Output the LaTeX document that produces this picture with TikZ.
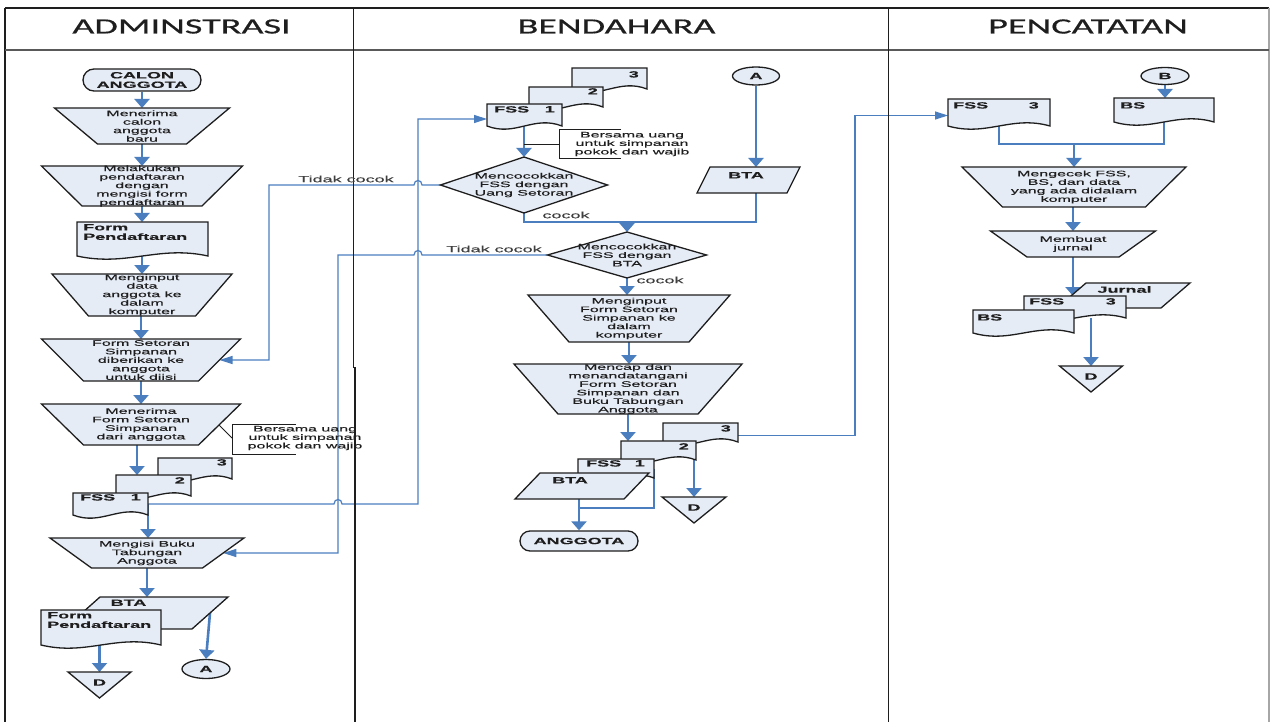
\documentclass[tikz,border=0pt]{standalone}
\usepackage{fontspec}
\setmainfont{Liberation Sans}
\newfontfamily\hdfont[FakeStretch=1.76,FakeBold=0.6]{Carlito}
\newfontfamily\bxfont[FakeStretch=2.0,FakeBold=0.3]{Liberation Sans}
\usetikzlibrary{arrows.meta,calc,shapes.misc,shapes.geometric}
\pgfdeclarelayer{back}
\pgfdeclarelayer{bg}
\pgfsetlayers{back,bg,main}
\definecolor{fillb}{HTML}{E6ECF6}
\definecolor{lineb}{HTML}{4A7EBF}
\definecolor{ink}{HTML}{1E1E1E}
\newcommand\txtf{\bxfont\fontsize{8}{8.5}\selectfont}
\newcommand\lblf{\bxfont\bfseries\fontsize{9}{9.5}\selectfont}
\tikzset{
 shp/.style={draw=ink, fill=fillb, line width=1.3pt, line join=miter},
 bb/.style={inner sep=0pt, outer sep=0pt, draw=none},
 txt/.style={font=\txtf, align=center, text=ink, inner sep=0pt},
 lbl/.style={font=\lblf, text=ink, inner sep=0pt, align=left},
 rtxt/.style={font=\bxfont\fontsize{9}{9}\selectfont, text=ink!85, inner sep=0pt},
 flow/.style={draw=lineb, line width=2.6pt, -{Triangle[width=15pt,length=9pt]}},
 route/.style={draw=lineb, line width=1.2pt},
 routearr/.style={route, -{Triangle[width=8pt,length=13pt]}},
 ann/.style={draw=ink, line width=1pt},
 frame/.style={draw=ink, line width=1.5pt},
 hd/.style={font=\hdfont\fontsize{21.7}{21.7}\selectfont, text=ink, inner sep=0pt},
 term/.style={shp, rounded rectangle, inner sep=0pt, font=\lblf, align=center, text=ink},
 conn/.style={shp, ellipse, inner sep=0pt, font=\lblf, text=ink},
}
% manual operation: name, cx, ytop, ybot, topW, botW, text
\newcommand\mop[7]{%
 \node[bb, minimum width={#5}, minimum height={#4-#3}] (#1) at (#2,{(#3+#4)/2}) {};
 \draw[shp] ({#2-#5/2},#3) -- ({#2+#5/2},#3) -- ({#2+#6/2},#4) -- ({#2-#6/2},#4) -- cycle;
 \node[txt] (#1-t) at (#1.center) {#7};}
% document: name, x1, y1, x2, y2 (side bottom)
\newcommand\docu[5]{%
 \node[bb, minimum width={#4-#2}, minimum height={#5-#3}] (#1) at ({(#2+#4)/2},{(#3+#5)/2}) {};
 \draw[shp] (#2,#5) -- (#2,#3) -- (#4,#3) -- (#4,#5) .. controls ({#4-0.38*(#4-#2)},{#5-11}) and ({#2+0.38*(#4-#2)},{#5+11}) .. (#2,#5) -- cycle;}
% data: name, xTL, ytop, xTR, ybot, slant
\newcommand\para[6]{%
 \node[bb, minimum width={#4-#2+#6}, minimum height={#5-#3}] (#1) at ({(#2+#4-#6)/2},{(#3+#5)/2}) {};
 \draw[shp] (#2,#3) -- (#4,#3) -- ({#4-#6},#5) -- ({#2-#6},#5) -- cycle;}
% decision: name, cx, cy, w, h, text
\newcommand\dia[6]{%
 \node[bb, minimum width={#4}, minimum height={#5}] (#1) at (#2,#3) {};
 \draw[shp] (#1.north) -- (#1.east) -- (#1.south) -- (#1.west) -- cycle;
 \node[txt] (#1-t) at (#1.center) {#6};}
% off-page: name, cx, ytop, yapex, w
\newcommand\offp[5]{%
 \node[bb, minimum width={#5}, minimum height={#4-#3}] (#1) at (#2,{(#3+#4)/2}) {};
 \draw[shp] (#1.north west) -- (#1.north east) -- (#1.south) -- cycle;
 \node[lbl] (#1-t) at ($(#1.north)+(0,10.5)$) {D};}

\begin{document}
\begin{tikzpicture}[x=1pt,y=-1pt]
\begin{pgfonlayer}{back}
\fill[white] (0,0) rectangle (1271,722);
\end{pgfonlayer}
\useasboundingbox (0,0) rectangle (1271,722);

% ---------- frame ----------
\draw[frame] (5,8) -- (1269,8);
\draw[frame] (5,8) -- (5,722);
\draw[frame, draw=black!35] (1269,8) -- (1269,722);
\draw[frame, draw=black!65, line width=1.2pt] (5,50) -- (1269,50);
\draw[frame] (353.5,8) -- (353.5,367.5) -- (355,367.5) -- (355,722);
\draw[frame] (888.5,8) -- (888.5,722);
\node[hd] (h1) at (181.5,26.5) {ADMINSTRASI};
\node[hd] (h2) at (616.5,26.5) {BENDAHARA};
\node[hd] (h3) at (1088,26.5) {PENCATATAN};

% ---------- ADMINSTRASI ----------
\node[term, minimum width=118, minimum height=22] (calon) at (142,80) {CALON\\ANGGOTA};
\mop{p1}{142}{108}{144}{175}{89}{Menerima\\calon\\anggota\\baru}
\mop{p2}{142}{166}{206}{201}{120}{Melakukan\\pendaftaran\\dengan\\mengisi form\\pendaftaran}
\docu{fp1}{77}{222}{208}{256}
\node[lbl, anchor=north west] (fp1-l) at (83,224) {Form\\Pendaftaran};
\mop{p3}{142}{274}{316}{180}{107}{Menginput\\data\\anggota ke\\dalam\\komputer}
\mop{p4}{141}{339}{381}{199}{115}{Form Setoran\\Simpanan\\diberikan ke\\anggota\\untuk diisi}
\mop{p5}{141}{404}{445}{199}{115}{Menerima\\Form Setoran\\Simpanan\\dari anggota}
\docu{fss3}{158}{458}{232}{479}
\node[lbl, anchor=north east] (fss3-l) at (227,459) {3};
\docu{fss2}{116}{475}{191}{496}
\node[lbl, anchor=north east] (fss2-l) at (185,477) {2};
\docu{fss1}{73}{493}{148}{515}
\node[lbl, anchor=north west] (fss1-l) at (80,494) {FSS};
\node[lbl, anchor=north east] (fss1-n) at (141,494) {1};
\mop{p6}{147}{538}{568}{194}{111}{Mengisi Buku\\Tabungan\\Anggota}
\para{bta}{100}{597}{228}{629}{36}
\node[lbl, anchor=north] (bta-l) at (128.5,599.5) {BTA};
\docu{fp2}{41}{610}{161}{645}
\node[lbl, anchor=north west] (fp2-l) at (47,612) {Form\\Pendaftaran};
\offp{d1}{99.5}{672}{698}{63}
\node[conn, minimum width=48, minimum height=19] (aA2) at (206,669) {A};
% annotation
\draw[ann] (219,425) -- (232,438);
\draw[ann] (296,424) -- (232,424) -- (232,454) -- (296,454);
\node[txt] (ann1) at (305,438) {Bersama uang\\untuk simpanan\\pokok dan wajib};

% ---------- BENDAHARA ----------
\docu{bfss3}{572}{68}{647}{89}
\node[lbl, anchor=north east] (bfss3-l) at (639,71) {3};
\docu{bfss2}{529}{87}{603}{107}
\node[lbl, anchor=north east] (bfss2-l) at (598,88) {2};
\docu{bfss1}{487}{104}{562}{126}
\node[lbl, anchor=north west] (bfss1-l) at (494,106) {FSS};
\node[lbl, anchor=north east] (bfss1-n) at (555,106) {1};
\draw[ann] (621,130) -- (559,130) -- (559,159) -- (621,159);
\node[txt] (ann2) at (632,144) {Bersama uang\\untuk simpanan\\pokok dan wajib};
\dia{dia1}{524}{185}{167}{56}{Mencocokkan\\FSS dengan\\Uang Setoran}
\node[conn, minimum width=47, minimum height=18] (aA) at (756,76) {A};
\para{bta1}{710}{167}{800}{193}{13}
\node[lbl, anchor=north] (bta1-l) at (746,172) {BTA};
\dia{dia2}{627}{255}{159}{46}{Mencocokkan\\FSS dengan\\BTA}
\mop{mi}{629}{295}{342}{202}{120}{Menginput\\Form Setoran\\Simpanan ke\\dalam\\komputer}
\mop{mc}{628}{364}{414}{228}{140}{Mencap dan\\menandatangani\\Form Setoran\\Simpanan dan\\Buku Tabungan\\Anggota}
\docu{bfss3b}{663}{423}{738}{442}
\node[lbl, anchor=north east] (bfss3b-l) at (731,425) {3};
\docu{bfss2b}{621}{441}{696}{460}
\node[lbl, anchor=north east] (bfss2b-l) at (689,443) {2};
\docu{bfss1b}{578}{459}{654}{478}
\node[lbl, anchor=north west] (bfss1b-l) at (586,460) {FSS};
\node[lbl, anchor=north east] (bfss1b-n) at (645,460) {1};
\para{bta2}{540}{473}{649}{499}{25}
\node[lbl, anchor=north] (bta2-l) at (570,477) {BTA};
\node[term, minimum width=118, minimum height=20] (ang) at (579,541) {ANGGOTA};
\offp{d2}{694}{497}{523}{64}

% ---------- PENCATATAN ----------
\docu{pfss3}{948}{99}{1050}{126}
\node[lbl, anchor=north west] (pfss3-l) at (953,102) {FSS};
\node[lbl, anchor=north east] (pfss3-n) at (1039,102) {3};
\node[conn, minimum width=48, minimum height=17] (bB) at (1165,76) {B};
\docu{bs1}{1114}{98}{1214}{122}
\node[lbl, anchor=north west] (bs1-l) at (1120,102) {BS};
\mop{mg}{1074}{167}{207}{224}{143}{Mengecek FSS,\\BS, dan data\\yang ada didalam\\komputer}
\mop{mb}{1073}{231}{257}{165}{92}{Membuat\\jurnal}
\para{jur}{1086}{283}{1190}{308}{29}
\node[lbl, anchor=north] (jur-l) at (1124.5,286) {Jurnal};
\docu{pfss3b}{1024}{296}{1126}{318}
\node[lbl, anchor=north west] (pfss3b-l) at (1029,298) {FSS};
\node[lbl, anchor=north east] (pfss3b-n) at (1116,298) {3};
\docu{bs2}{973}{310}{1074}{333}
\node[lbl, anchor=north west] (bs2-l) at (977,314) {BS};
\offp{d3}{1091}{366}{392}{63}

% ---------- route labels ----------
\node[rtxt] (tc1) at (346,179) {Tidak cocok};
\node[rtxt] (tc2) at (494,249) {Tidak cocok};
\node[rtxt] (ck1) at (566,215) {cocok};
\node[rtxt] (ck2) at (660,280) {cocok};

\coordinate (j1) at (627,222);
\coordinate (j2) at (579,508);
\coordinate (j3) at (1074,144);
\coordinate (k1) at (855,435.5);
\coordinate (c137) at (137,0);

% ---------- connectors ----------
\begin{pgfonlayer}{bg}
% administrasi
\draw[flow] (calon.south) -- (p1.north);
\draw[flow] (p1.south) -- (p2.north);
\draw[flow] (p2.south) -- (p2.south |- fp1.north);
\draw[flow] (p3.north |- fp1.south) -- (p3.north);
\draw[flow] (p4.north |- p3.south) -- (p4.north);
\draw[flow] (p4.south) -- (p5.north);
\draw[flow] (p5.south -| c137) -- (fss2.north -| c137);
\draw[flow] (fss1.east) -- (fss1.east |- p6.north);
\draw[flow] (p6.south) -- (p6.south |- bta.north);
\draw[flow] ($(bta.east)+(-18,0)$) -- (aA2.north);
\draw[flow] (d1.north |- fp2.south) -- (d1.north);
% routes
\draw[routearr] (fss1.east) -- (334,504) .. controls (334,498) and (342,498) .. (342,504) -- (418,504) |- ($(bfss1.west)+(0,4)$);
\draw[routearr] (dia1.west) -- (422,185) .. controls (422,179) and (414,179) .. (414,185) -- (269,185) |- ($(p4.east)+(-21,0)$);
\draw[routearr] (dia2.west) -- (422,255) .. controls (422,249) and (414,249) .. (414,255) -- (338,255) |- ($(p6.east)+(-20.75,0)$);
% bendahara
\draw[flow] (dia1.north |- bfss1.south) -- (dia1.north);
\draw[ann] (524,145) -- (559,145);
\draw[route, line width=1.6pt] (dia1.south) -- ++(0,9) -| (aA.south |- bta1.south);
\draw[flow] (j1) -- (dia2.north);
\draw[flow] (aA.south) -- (aA.south |- bta1.north);
\draw[flow] (dia2.south) -- (dia2.south |- mi.north);
\draw[flow] (mi.south) -- (mi.south |- mc.north);
\draw[flow] (mc.south) -- (mc.south |- bfss2b.north);
\draw[route, line width=1.6pt] (bfss1b.east) |- (j2);
\draw[flow] (ang.north |- bta2.south) -- (ang.north);
\draw[flow] (d2.north |- bfss2b.south) -- (d2.north);
\draw[routearr] ($(bfss3b.east)+(0,3)$) -- (k1) |- ($(pfss3.west)+(0,3)$);
% pencatatan
\draw[flow] (bB.south) -- (bB.south |- bs1.north);
\draw[route, line width=1.6pt] (pfss3.south) |- (j3) -| (bs1.south);
\draw[flow] (j3) -- (mg.north);
\draw[flow] (mb.north |- mg.south) -- (mb.north);
\draw[flow] (mb.south) -- (mb.south |- pfss3b.north);
\draw[flow] (d3.north |- pfss3b.south) -- (d3.north);
\end{pgfonlayer}
\end{tikzpicture}
\end{document}
